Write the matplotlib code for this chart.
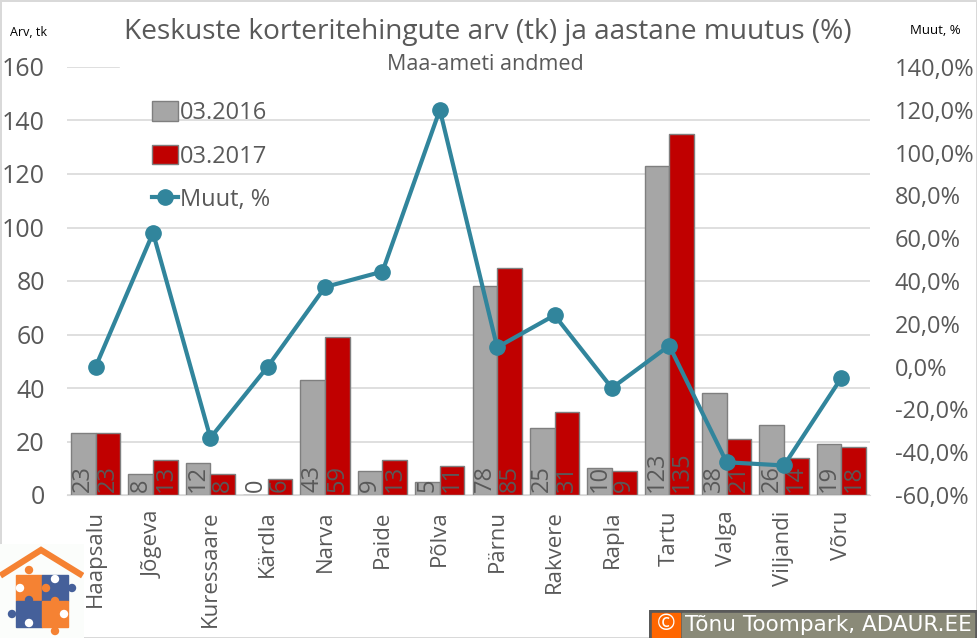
import numpy as np
import pandas as pd
from matplotlib import pyplot as plt
from matplotlib.patches import Rectangle, Circle

plt.rcParams['font.family'] = ['Open Sans', 'DejaVu Sans']


def plot_logo(fig):

    # house with puzzle pieces, bottom left corner
    ax_logo = fig.add_axes([0, 0, 84/977, 94/638])
    ax_logo.set_xlim(0, 84)
    ax_logo.set_ylim(94, 0)
    ax_logo.axis('off')
    ax_logo.add_patch(Rectangle((0, 0), 84, 94, color='#fbfdfb'))
    orange = '#f58233'
    blue = '#45609a'
    ax_logo.plot([3, 41, 80], [30, 6, 30], linewidth=4.5, c=orange, solid_joinstyle='miter')
    ax_logo.add_patch(Rectangle((16, 31), 26, 26, color=orange))
    ax_logo.add_patch(Rectangle((42, 31), 26, 26, color=blue))
    ax_logo.add_patch(Rectangle((16, 57), 26, 26, color=blue))
    ax_logo.add_patch(Rectangle((42, 57), 26, 26, color=orange))
    ax_logo.add_patch(Circle((29, 26), 3.5, color=orange))
    ax_logo.add_patch(Circle((72, 44), 3.5, color=blue))
    ax_logo.add_patch(Circle((12, 70), 3.5, color=blue))
    ax_logo.add_patch(Circle((55, 87), 3.5, color=orange))
    ax_logo.add_patch(Circle((20, 44), 3.5, color='white'))
    ax_logo.add_patch(Circle((55, 35), 3.5, color='white'))
    ax_logo.add_patch(Circle((29, 79), 3.5, color='white'))
    ax_logo.add_patch(Circle((64, 70), 3.5, color='white'))
    ax_logo.add_patch(Circle((46, 44), 3.5, color=orange))
    ax_logo.add_patch(Circle((29, 56), 3.5, color=blue))
    ax_logo.add_patch(Circle((55, 57), 3.5, color=orange))


def plot_sales(Outfile):

    # sales count per town and yearly change
    df = pd.DataFrame({
        'town': ['Haapsalu', 'Jõgeva', 'Kuressaare', 'Kärdla', 'Narva', 'Paide', 'Põlva',
                 'Pärnu', 'Rakvere', 'Rapla', 'Tartu', 'Valga', 'Viljandi', 'Võru'],
        'y2016': [23, 8, 12, 0, 43, 9, 5, 78, 25, 10, 123, 38, 26, 19],
        'y2017': [23, 13, 8, 6, 59, 13, 11, 85, 31, 9, 135, 21, 14, 18],
        'change': [0, 62.5, -33.3, 0, 37.2, 44.4, 120, 9.0, 24.0, -10.0, 9.8, -44.7, -46.2, -5.3],
    })
    x = np.arange(len(df))
    ink = '#595959'
    width = 0.43

    fig = plt.figure(figsize=(9.77, 6.38), dpi=100, edgecolor='#d9d9d9', linewidth=2)
    ax = plt.axes([67/977, 1 - 495/638, 803/977, 428/638])
    for side in ['right', 'top', 'left']:
        ax.spines[side].set_visible(False)
    ax.spines['bottom'].set_color('#d9d9d9')

    bars1 = plt.bar(x - width/2, df['y2016'], width=width, color='#a6a6a6', edgecolor='#7f7f7f', linewidth=1, label='03.2016', zorder=2)
    bars2 = plt.bar(x + width/2, df['y2017'], width=width, color='#c00000', edgecolor='#7f7f7f', linewidth=1, label='03.2017', zorder=2)
    for i in x:
        plt.text(i - width/2, 1, str(df['y2016'][i]), rotation=90, ha='center', va='bottom', fontsize=17, color=ink, zorder=3)
        plt.text(i + width/2, 1, str(df['y2017'][i]), rotation=90, ha='center', va='bottom', fontsize=17, color=ink, zorder=3)

    plt.xlim(-0.5, len(df) - 0.5)
    plt.ylim(0, 160)
    plt.yticks(np.arange(0, 161, 20), fontsize=18, color=ink)
    plt.xticks(x, df['town'], rotation=90, fontsize=16, color=ink)
    ax.tick_params(axis='y', length=0, pad=16)
    ax.tick_params(axis='x', length=0, pad=11)
    ax.grid(axis='y', color='#d9d9d9', linewidth=1.2, zorder=0)
    ax.set_axisbelow(True)
    ax.add_patch(Rectangle((53/803, 0.97), 750/803, 0.06, transform=ax.transAxes, color='white', clip_on=False, zorder=1))  # hides top gridline

    ax2 = ax.twinx()
    for side in ['right', 'top', 'left', 'bottom']:
        ax2.spines[side].set_visible(False)
    line, = ax2.plot(x, df['change'], linewidth=3, c='#31859c', marker='o', markersize=11, label='Muut, %')
    ax2.set_ylim(-60, 140)
    ticks = np.arange(-60, 141, 20)
    ax2.set_yticks(ticks)
    ax2.set_yticklabels(['%d,0%%' % t for t in ticks], fontsize=17, color=ink)
    ax2.tick_params(axis='y', length=0, pad=18)

    ax2.legend(handles=[bars1, bars2, line], loc='upper left', bbox_to_anchor=(85/803, 0.92), frameon=False,
               fontsize=17, labelcolor=ink, handlelength=1.1, handleheight=0.9, handletextpad=0.1,
               labelspacing=0.82, borderpad=0, borderaxespad=0)

    fig.text(488/977, 1 - 32/638, 'Keskuste korteritehingute arv (tk) ja aastane muutus (%)', ha='center', va='center', fontsize=20.2, color=ink)
    fig.text(485/977, 1 - 64/638, 'Maa-ameti andmed', ha='center', va='center', fontsize=15.5, color=ink)
    fig.text(29/977, 1 - 33/638, 'Arv, tk', ha='center', va='center', fontsize=9, color='black')
    fig.text(935/977, 1 - 30/638, 'Muut, %', ha='center', va='center', fontsize=9.5, color='black')

    plot_logo(fig)

    # copyright strip
    ax_c = fig.add_axes([649/977, 0, 328/977, 28/638])
    ax_c.set_xlim(0, 328)
    ax_c.set_ylim(28, 0)
    ax_c.axis('off')
    ax_c.add_patch(Rectangle((0, 0), 328, 28, color='#595959'))
    ax_c.add_patch(Rectangle((3, 3), 28, 24, color='#ff6600'))
    ax_c.add_patch(Rectangle((33, 3), 292, 24, color='#8a8a78'))
    ax_c.text(17, 15, '©', ha='center', va='center', fontsize=16, color='white')
    ax_c.text(36, 15, 'Tõnu Toompark, ADAUR.EE', ha='left', va='center', fontsize=15.5, color='white', family='DejaVu Sans')

    plt.savefig(Outfile, edgecolor=fig.get_edgecolor())
    plt.close()


if __name__ == '__main__':
    plot_sales('out.png')
